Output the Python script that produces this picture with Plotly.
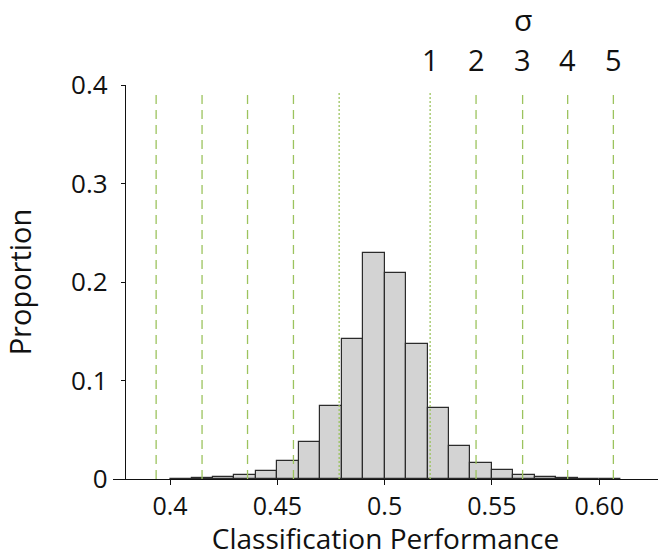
import plotly.graph_objects as go

# Histogram bins (centers, width 0.01) and proportions
bin_centers = [0.405, 0.415, 0.425, 0.435, 0.445, 0.455, 0.465, 0.475, 0.485, 0.495,
               0.505, 0.515, 0.525, 0.535, 0.545, 0.555, 0.565, 0.575, 0.585, 0.595, 0.605]
proportions = [0.0004, 0.001, 0.0024, 0.0044, 0.0078, 0.018, 0.038, 0.074, 0.142, 0.229,
               0.209, 0.137, 0.072, 0.034, 0.016, 0.0088, 0.004, 0.0024, 0.001, 0.0005, 0.0002]
bin_width = 0.01

# Sigma lines (left side 5..1, right side 1..5)
sigma_left = [0.3935, 0.4149, 0.4361, 0.4575, 0.4788]
sigma_right = [0.5212, 0.5426, 0.5643, 0.5853, 0.6066]
sigma_labels = ["1", "2", "3", "4", "5"]

x_tickvals = [0.4, 0.45, 0.5, 0.55, 0.6]
x_ticktext = ["0.4", "0.45", "0.5", "0.55", "0.60"]
y_tickvals = [0, 0.1, 0.2, 0.3, 0.4]
y_ticktext = ["0", "0.1", "0.2", "0.3", "0.4"]

green = "#9cc35e"
font_family = "Open Sans, Lato, DejaVu Sans, sans-serif"

fig = go.Figure()
fig.add_trace(go.Bar(
    x=bin_centers, y=proportions, width=bin_width,
    marker=dict(color="#d3d3d3", line=dict(color="#2b2b2b", width=1.2)),
    showlegend=False,
))

shapes = []
for i, xv in enumerate(sigma_left):
    dash = "2px,2px" if i == 4 else "9px,6px"
    shapes.append(dict(type="line", xref="x", yref="y", x0=xv, x1=xv, y0=0, y1=0.393,
                       line=dict(color=green, width=1.3, dash=dash), layer="above"))
for i, xv in enumerate(sigma_right):
    dash = "2px,2px" if i == 0 else "9px,6px"
    shapes.append(dict(type="line", xref="x", yref="y", x0=xv, x1=xv, y0=0, y1=0.393,
                       line=dict(color=green, width=1.3, dash=dash), layer="above"))

annotations = []
for xv, lab in zip(sigma_right, sigma_labels):
    annotations.append(dict(x=xv, y=1.0635, xref="x", yref="paper", text=lab, showarrow=False,
                            font=dict(size=29, color="#111", family=font_family),
                            xanchor="center", yanchor="middle"))
annotations.append(dict(x=sigma_right[2], y=1.166, xref="x", yref="paper", text="σ", showarrow=False,
                        font=dict(size=30, color="#111", family=font_family),
                        xanchor="center", yanchor="middle"))

fig.update_layout(
    width=658, height=557,
    margin=dict(l=113, r=0, t=85, b=78),
    paper_bgcolor="white", plot_bgcolor="white",
    shapes=shapes, annotations=annotations,
    bargap=0,
    font=dict(family=font_family, color="#111"),
    xaxis=dict(range=[0.3734, 0.6274], tickvals=x_tickvals, ticktext=x_ticktext,
               showline=True, linecolor="#111", linewidth=1.3, ticks="outside",
               ticklen=5, tickcolor="#111", showgrid=False, zeroline=False,
               tickfont=dict(size=25), title=dict(text="Classification Performance",
                                                  font=dict(size=28), standoff=6)),
    yaxis=dict(range=[0, 0.4], tickvals=y_tickvals, ticktext=y_ticktext,
               anchor="free", position=0.022,
               showline=True, linecolor="#111", linewidth=1.3, ticks="outside",
               ticklen=4, tickcolor="#111", showgrid=False, zeroline=False,
               ticklabelstandoff=8,
               tickfont=dict(size=26), title=dict(text="Proportion", font=dict(size=29),
                                                  standoff=34)),
)

fig.write_html("out.html")
